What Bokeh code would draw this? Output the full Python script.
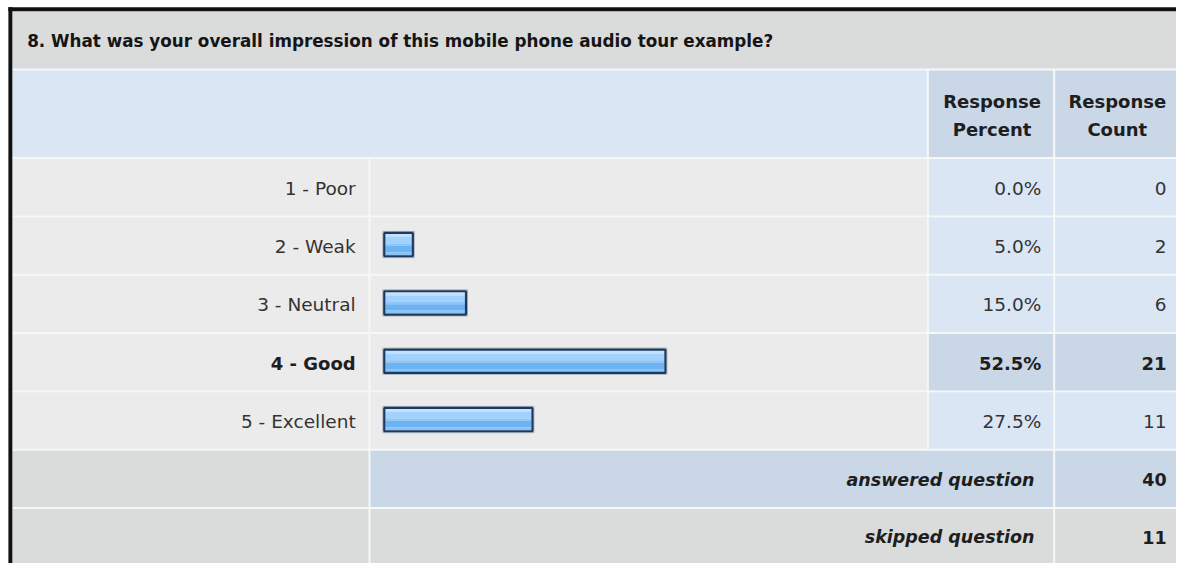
from bokeh.plotting import figure
from bokeh.models import Range1d, ColumnDataSource
from bokeh.core.properties import value
from bokeh.embed import file_html
from bokeh.resources import INLINE

# ---------------- data ----------------
title = "8. What was your overall impression of this mobile phone audio tour example?"
categories = ["1 - Poor", "2 - Weak", "3 - Neutral", "4 - Good", "5 - Excellent"]
percents = [0.0, 5.0, 15.0, 52.5, 27.5]
counts = [0, 2, 6, 21, 11]
answered_label = "answered question"
answered_count = 40
skipped_label = "skipped question"
skipped_count = 11
header_pct = ["Response", "Percent"]
header_cnt = ["Response", "Count"]

# ---------------- layout / style ----------------
W, H = 1176, 563
REF_W, REF_H = 1192, 579
FONT = value("DejaVu Sans")

GRAY = "#dadcdb"
ROWBG = "#ebebeb"
LBLUE = "#dbe6f5"
DBLUE = "#c9d7e7"
SEP = "#f6f7f8"

C_IN, C1, C2, C3, C_R = 12, 374, 940, 1068, 1200
TITLE_T, TITLE_B = 11, 70
HEAD_T, HEAD_B = 72, 161
ROW0, ROWH = 162, 60

BAR_X0 = 388
PX_PER_PCT = 5.39
BAR_EXTRA = 4
BAR_H = 26

p = figure(width=W, height=H, x_range=Range1d(0, REF_W), y_range=Range1d(REF_H, 0),
           output_backend="svg", toolbar_location=None, min_border=0,
           x_axis_location=None, y_axis_location=None)
p.grid.visible = False
p.outline_line_color = None
p.background_fill_color = "white"
p.border_fill_color = "white"

cells = dict(l=[], r=[], t=[], b=[], c=[])
def cell(l, r, t, b, c):
    cells["l"].append(l); cells["r"].append(r); cells["t"].append(t); cells["b"].append(b); cells["c"].append(c)

# separator background of the table
cell(C_IN, C_R, TITLE_T, 600, SEP)
# title band & header
cell(C_IN, C_R, TITLE_T, TITLE_B, GRAY)
cell(C_IN, C2 - 1, HEAD_T, HEAD_B, LBLUE)
cell(C2 + 1, C3 - 1, HEAD_T, HEAD_B, DBLUE)
cell(C3 + 1, C_R, HEAD_T, HEAD_B, DBLUE)

hi = counts.index(max(counts))
n = len(categories)
for i in range(n):
    t = ROW0 + ROWH * i + 1
    b = ROW0 + ROWH * (i + 1) - 1
    cell(C_IN, C1 - 1, t, b, ROWBG)
    cell(C1 + 1, C2 - 1, t, b, ROWBG)
    cc = DBLUE if i == hi else LBLUE
    cell(C2 + 1, C3 - 1, t, b, cc)
    cell(C3 + 1, C_R, t, b, cc)

# answered row
t = ROW0 + ROWH * n + 1; b = ROW0 + ROWH * (n + 1) - 1
cell(C_IN, C1 - 1, t, b, GRAY)
cell(C1 + 1, C3 - 1, t, b, DBLUE)
cell(C3 + 1, C_R, t, b, DBLUE)
# skipped row
t = ROW0 + ROWH * (n + 1) + 1; b = 600
cell(C_IN, C1 - 1, t, b, GRAY)
cell(C1 + 1, C3 - 1, t, b, GRAY)
cell(C3 + 1, C_R, t, b, GRAY)

p.quad(left="l", right="r", top="t", bottom="b", fill_color="c", line_color=None,
       source=ColumnDataSource(cells))

# black frame (left and top)
p.quad(left=[8, 8], right=[12, C_R], top=[7, 7], bottom=[600, 11], fill_color="#111111", line_color=None)

# bars
centers = [ROW0 + ROWH * i + ROWH / 2 for i in range(n)]
bl, br, bt, bb = [], [], [], []
for pct, cy in zip(percents, centers):
    if pct <= 0:
        continue
    bl.append(BAR_X0); br.append(BAR_X0 + BAR_EXTRA + pct * PX_PER_PCT)
    bt.append(cy - BAR_H / 2 - 1); bb.append(cy + BAR_H / 2 - 1)

strips = [(0.00, 0.15, "#c2e1ff"), (0.15, 0.45, "#a3d1fd"), (0.45, 0.56, "#8cc6fb"),
          (0.56, 0.86, "#6cb3f4"), (0.86, 1.00, "#86c3f9")]
sd = dict(l=[], r=[], t=[], b=[], c=[])
for l, r, t, b in zip(bl, br, bt, bb):
    it, ib = t + 2, b - 2
    for f0, f1, col in strips:
        sd["l"].append(l + 2); sd["r"].append(r - 2)
        sd["t"].append(it + (ib - it) * f0); sd["b"].append(it + (ib - it) * f1)
        sd["c"].append(col)
p.quad(left="l", right="r", top="t", bottom="b", fill_color="c", line_color=None,
       source=ColumnDataSource(sd))
# soft halo + dark border
p.quad(left=[v - 0.5 for v in bl], right=[v + 0.5 for v in br], top=[v - 0.5 for v in bt],
       bottom=[v + 0.5 for v in bb], fill_color=None, line_color="#7d8ea3", line_width=1, line_alpha=0.6)
p.quad(left=[v + 1 for v in bl], right=[v - 1 for v in br], top=[v + 1 for v in bt],
       bottom=[v - 1 for v in bb], fill_color=None, line_color="#1d3a5e", line_width=2.2)

# title
p.text(x=[27], y=[(TITLE_T + TITLE_B) / 2 + 1], text=[title], text_font=FONT, text_font_size="16.8px",
       text_font_style="bold", text_color="#151515", text_align="left", text_baseline="middle")

# header
hx = [(C2 + C3) / 2 + 1] * 2 + [1132] * 2
hy = [104, 133, 104, 133]
p.text(x=hx, y=hy, text=header_pct + header_cnt, text_font=FONT, text_font_size="18px",
       text_font_style="bold", text_color="#1e1e1e", text_align="center", text_baseline="middle")

# rows
def rowtext(xs, ys, texts, style, size, color):
    p.text(x=xs, y=ys, text=texts, text_font=FONT, text_font_size=size, text_font_style=style,
           text_color=color, text_align="right", text_baseline="middle")

norm = [i for i in range(n) if i != hi]
for idxs, style, col in [(norm, "normal", "#333333"), ([hi], "bold", "#1e1e1e")]:
    ys = [centers[i] + 1 for i in idxs]
    sz = "18.5px" if style == "normal" else "18px"
    rowtext([360] * len(idxs), ys, [categories[i] for i in idxs], style, sz, col)
    rowtext([1055] * len(idxs), ys, [f"{percents[i]:.1f}%" for i in idxs], style, sz, col)
    rowtext([1182] * len(idxs), ys, [str(counts[i]) for i in idxs], style, sz, col)

ya = ROW0 + ROWH * n + ROWH / 2 + 1
ys_ = ROW0 + ROWH * (n + 1) + ROWH / 2
rowtext([1048, 1048], [ya, ys_], [answered_label, skipped_label], "bold italic", "17.5px", "#1e1e1e")
rowtext([1182, 1182], [ya, ys_], [str(answered_count), str(skipped_count)], "bold", "17.5px", "#1e1e1e")

open("out.html", "w").write(file_html(p, INLINE))
